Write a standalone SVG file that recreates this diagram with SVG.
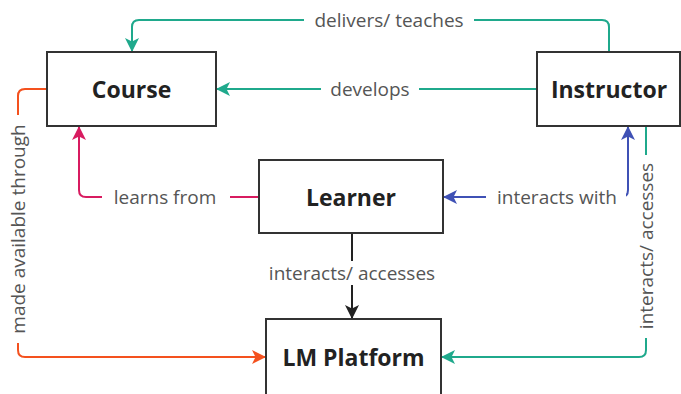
<svg xmlns="http://www.w3.org/2000/svg" width="681" height="394" viewBox="0 0 681 394">
  <style>
    .node rect { fill: #ffffff; stroke: #333333; stroke-width: 2; }
    .node text { font-family: "Open Sans", "DejaVu Sans", sans-serif; font-weight: 700; font-size: 23px; fill: #222222; text-anchor: middle; dominant-baseline: central; }
    .edge { fill: none; stroke-width: 2; }
    .lbl { font-family: "Open Sans", "DejaVu Sans", sans-serif; font-size: 19px; fill: #555555; text-anchor: middle; dominant-baseline: central; }
    .bg { fill: #ffffff; }
  </style>
  <defs>
    <marker id="ah-teal" viewBox="0 0 14 14" refX="13" refY="7" markerWidth="14" markerHeight="14" markerUnits="userSpaceOnUse" orient="auto-start-reverse">
      <path d="M0,0 L14,7 L0,14 L3.5,7 Z" fill="#1fa98c"/>
    </marker>
    <marker id="ah-orange" viewBox="0 0 14 14" refX="13" refY="7" markerWidth="14" markerHeight="14" markerUnits="userSpaceOnUse" orient="auto-start-reverse">
      <path d="M0,0 L14,7 L0,14 L3.5,7 Z" fill="#f4511e"/>
    </marker>
    <marker id="ah-pink" viewBox="0 0 14 14" refX="13" refY="7" markerWidth="14" markerHeight="14" markerUnits="userSpaceOnUse" orient="auto-start-reverse">
      <path d="M0,0 L14,7 L0,14 L3.5,7 Z" fill="#d81b60"/>
    </marker>
    <marker id="ah-blue" viewBox="0 0 14 14" refX="13" refY="7" markerWidth="14" markerHeight="14" markerUnits="userSpaceOnUse" orient="auto-start-reverse">
      <path d="M0,0 L14,7 L0,14 L3.5,7 Z" fill="#3f51b5"/>
    </marker>
    <marker id="ah-black" viewBox="0 0 14 14" refX="13" refY="7" markerWidth="14" markerHeight="14" markerUnits="userSpaceOnUse" orient="auto-start-reverse">
      <path d="M0,0 L14,7 L0,14 L3.5,7 Z" fill="#222222"/>
    </marker>
  </defs>
  <rect width="681" height="394" fill="#ffffff"/>

  <g id="connectors">
    <!-- Instructor delivers/teaches Course -->
    <path class="edge" stroke="#1fa98c" d="M609,52 V27 Q609,20 602,20 H139 Q132,20 132,27 V51" marker-end="url(#ah-teal)"/>
    <rect class="bg" x="304" y="8" width="170" height="24"/>
    <text class="lbl" x="389" y="20">delivers/ teaches</text>

    <!-- Instructor develops Course -->
    <path class="edge" stroke="#1fa98c" d="M537,89 H217" marker-end="url(#ah-teal)"/>
    <rect class="bg" x="321" y="77" width="98" height="24"/>
    <text class="lbl" x="370" y="89">develops</text>

    <!-- Course made available through LM Platform -->
    <path class="edge" stroke="#f4511e" d="M47,89 H25 Q18,89 18,96 V350 Q18,357 25,357 H265" marker-end="url(#ah-orange)"/>
    <rect class="bg" x="6" y="115" width="24" height="228"/>
    <text class="lbl" transform="translate(18,229) rotate(-90)">made available through</text>

    <!-- Learner learns from Course -->
    <path class="edge" stroke="#d81b60" d="M259,197 H86 Q79,197 79,190 V127" marker-end="url(#ah-pink)"/>
    <rect class="bg" x="102" y="185" width="128" height="24"/>
    <text class="lbl" x="165" y="197">learns from</text>

    <!-- Learner interacts with Instructor -->
    <path class="edge" stroke="#3f51b5" d="M628,127 V190 Q628,197 621,197 H444" marker-start="url(#ah-blue)" marker-end="url(#ah-blue)"/>
    <rect class="bg" x="486" y="185" width="140" height="24"/>
    <text class="lbl" x="557" y="197">interacts with</text>

    <!-- Instructor interacts/accesses LM Platform -->
    <path class="edge" stroke="#1fa98c" d="M646,126 V350 Q646,357 639,357 H442" marker-end="url(#ah-teal)"/>
    <rect class="bg" x="634" y="155" width="24" height="183"/>
    <text class="lbl" transform="translate(646,246) rotate(-90)">interacts/ accesses</text>

    <!-- Learner interacts/accesses LM Platform -->
    <path class="edge" stroke="#222222" d="M352,233 V318" marker-end="url(#ah-black)"/>
    <rect class="bg" x="260" y="261" width="184" height="24"/>
    <text class="lbl" x="352" y="273">interacts/ accesses</text>
  </g>

  <g id="course" class="node">
    <rect x="47" y="52" width="169" height="74"/>
    <text x="131.5" y="89">Course</text>
  </g>
  <g id="instructor" class="node">
    <rect x="537" y="52" width="143" height="74"/>
    <text x="609" y="89">Instructor</text>
  </g>
  <g id="learner" class="node">
    <rect x="259" y="160" width="184" height="73"/>
    <text x="351" y="197">Learner</text>
  </g>
  <g id="lm-platform" class="node">
    <rect x="266" y="319" width="175" height="80"/>
    <text x="353.5" y="357">LM Platform</text>
  </g>
</svg>
